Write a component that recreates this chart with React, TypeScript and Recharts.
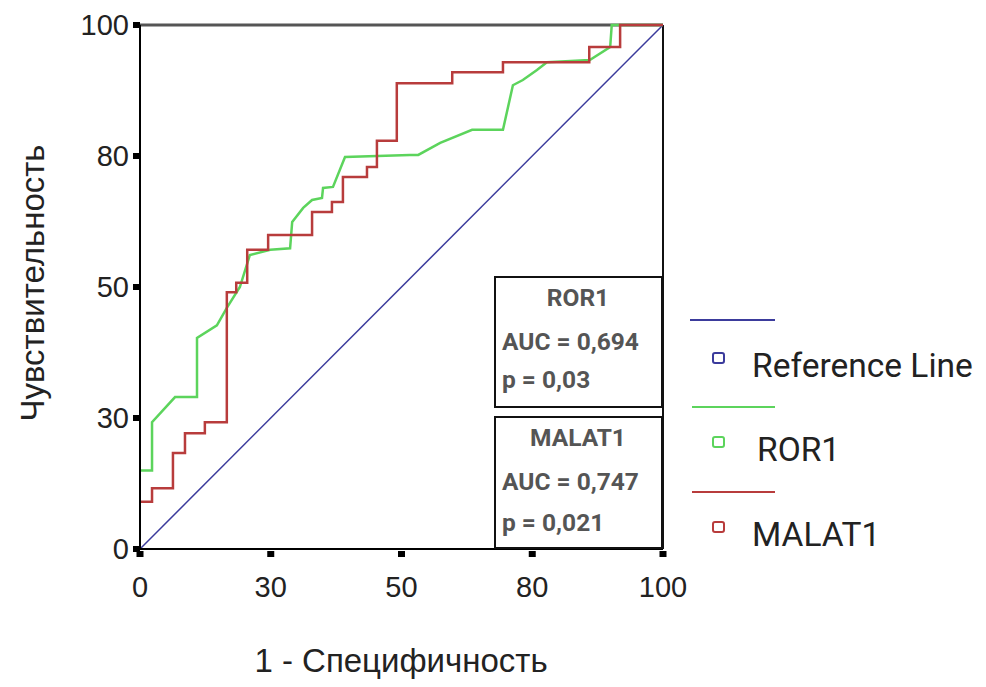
import { LineChart, Line, XAxis, YAxis, ReferenceLine } from 'recharts';

// tick positions are evenly spaced, labels are as printed on the figure
const tickPos = [0, 25, 50, 75, 100];
const tickLabels = ['0', '30', '50', '80', '100'];

const refX = [0, 100];
const refY = [0, 100];

const ror1X = [0, 2.3, 2.3, 6.7, 10.9, 10.9, 14.7, 16.6, 19.1, 21, 24.9, 28.7, 29.1, 31.2, 32.9, 34.8, 35, 36.9, 39.2, 51.6, 53.2, 57.4, 63.5, 69.4, 71.3, 73.2, 75.9, 77.8, 86, 89.9, 90.2, 100];
const ror1Y = [15, 15, 24.2, 29, 29, 40.3, 42.7, 46, 50, 56.1, 57.1, 57.4, 62.4, 65.1, 66.6, 67, 68.9, 69.1, 74.8, 75.2, 75.2, 77.5, 80, 80, 88.5, 89.5, 91.4, 92.9, 93.3, 95.8, 100, 100];

const malatX = [0, 2.3, 6.3, 8.6, 12.4, 16.6, 18.4, 20.5, 24.5, 32.9, 36.7, 38.8, 43.4, 45.3, 49.1, 59.7, 69.4, 85.9, 91.8, 100];
const malatY = [9, 11.6, 18.3, 22.1, 24.2, 49, 50.8, 57.1, 59.9, 64.3, 66.2, 71, 72.9, 77.9, 88.9, 91, 92.9, 95.8, 100, 100];

const toPoints = (xs: number[], ys: number[]) => xs.map((x, i) => ({ x, y: ys[i] }));

const refData = toPoints(refX, refY);
const ror1Data = toPoints(ror1X, ror1Y);
const malatData = toPoints(malatX, malatY);

const BLUE = '#3b3b9c';
const GREEN = '#5cd45c';
const RED = '#b83c3c';
const FONT = '"Liberation Sans", Arial, sans-serif';

const XTick = (props: any) => {
  const { x, y, index } = props;
  return (
    <g>
      <rect x={x - 3.5} y={y + 2} width={7} height={6} fill="#000" />
      <text x={x} y={y + 48} textAnchor="middle" fontSize={29} fill="#222" fontFamily={FONT}>
        {tickLabels[index]}
      </text>
    </g>
  );
};

const YTick = (props: any) => {
  const { x, y, index } = props;
  return (
    <g>
      <rect x={x - 7} y={y - 3} width={7} height={6} fill="#000" />
      <text x={x - 11} y={y + 10} textAnchor="end" fontSize={29} fill="#222" fontFamily={FONT}>
        {tickLabels[index]}
      </text>
    </g>
  );
};

const boxText = { fontFamily: 'Roboto, sans-serif', fontWeight: 700, fontSize: 24.5, fill: '#555' };
const legendText = { fontSize: 33.5, fill: '#222', fontFamily: 'Roboto, sans-serif' };

export default function App() {
  return (
    <div style={{ position: 'absolute', left: 0, top: 0, width: 986, height: 687, background: '#fff' }}>
      <LineChart width={986} height={687} margin={{ top: 25, right: 323, bottom: 0, left: 0 }}>
        <XAxis
          type="number"
          dataKey="x"
          domain={[0, 100]}
          ticks={tickPos}
          height={138}
          tickSize={0}
          tickMargin={0}
          tick={XTick}
          axisLine={{ stroke: '#000', strokeWidth: 2 }}
        />
        <YAxis
          type="number"
          dataKey="y"
          domain={[0, 100]}
          ticks={tickPos}
          width={140}
          tickSize={0}
          tickMargin={0}
          tick={YTick}
          axisLine={{ stroke: '#000', strokeWidth: 2 }}
        />
        <ReferenceLine y={100} stroke="#555" strokeWidth={3} />
        <ReferenceLine x={100} stroke="#111" strokeWidth={2} />
        <Line data={refData} dataKey="y" stroke={BLUE} strokeWidth={1.5} dot={false} isAnimationActive={false} />
        <Line data={ror1Data} dataKey="y" stroke={GREEN} strokeWidth={2.5} dot={false} isAnimationActive={false} />
        <Line data={malatData} dataKey="y" type="stepAfter" stroke={RED} strokeWidth={2.5} dot={false} isAnimationActive={false} />
      </LineChart>
      <svg width={986} height={687} style={{ position: 'absolute', left: 0, top: 0, pointerEvents: 'none' }}>
        <text transform="translate(44,283) rotate(-90)" textAnchor="middle" fontSize={33} fill="#222" fontFamily={FONT}>
          Чувствительность
        </text>
        <text x={401} y={672} textAnchor="middle" fontSize={33} fill="#222" fontFamily={FONT}>
          1 - Специфичность
        </text>

        <rect x={495} y={277} width={167} height={130} fill="#fff" stroke="#111" strokeWidth={2} />
        <text x={578} y={306} textAnchor="middle" {...boxText}>ROR1</text>
        <text x={502} y={350} {...boxText}>AUC = 0,694</text>
        <text x={502} y={388} {...boxText}>p = 0,03</text>

        <rect x={495} y={417} width={167} height={131} fill="#fff" stroke="#111" strokeWidth={2} />
        <text x={578} y={446} textAnchor="middle" {...boxText}>MALAT1</text>
        <text x={502} y={490} {...boxText}>AUC = 0,747</text>
        <text x={502} y={531} {...boxText}>p = 0,021</text>

        <line x1={690} x2={775} y1={320} y2={320} stroke={BLUE} strokeWidth={2} />
        <rect x={713} y={353} width={11} height={10} rx={2} fill="none" stroke={BLUE} strokeWidth={2} />
        <text x={752} y={377} {...legendText}>Reference Line</text>

        <line x1={692} x2={775} y1={407} y2={407} stroke={GREEN} strokeWidth={2} />
        <rect x={713} y={437} width={11} height={10} rx={2} fill="none" stroke={GREEN} strokeWidth={2} />
        <text x={757} y={461} {...legendText}>ROR1</text>

        <line x1={692} x2={775} y1={492} y2={492} stroke={RED} strokeWidth={2} />
        <rect x={713} y={522} width={11} height={10} rx={2} fill="none" stroke={RED} strokeWidth={2} />
        <text x={752} y={546} {...legendText}>MALAT1</text>
      </svg>
    </div>
  );
}
